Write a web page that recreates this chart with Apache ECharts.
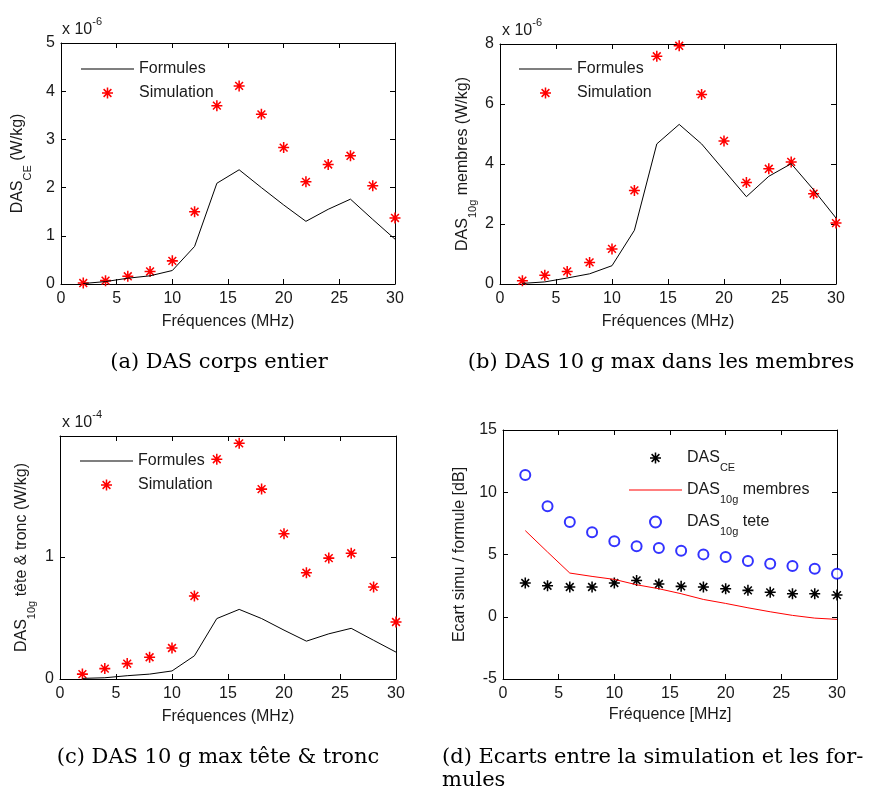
<!DOCTYPE html>
<html><head><meta charset="utf-8">
<script src="https://cdn.jsdelivr.net/npm/echarts@6/dist/echarts.min.js"></script>
<style>html,body{margin:0;padding:0;background:#fff}#c{width:876px;height:794px}</style>
</head><body><div id="c"></div>
<script>
// ---------- data ----------
const freq = [2,4,6,8,10,12,14,16,18,20,22,24,26,28,30];
const freqTicks = [0,5,10,15,20,25,30];
// (a) DAS corps entier, x 1e-6 W/kg
const ceTicks = [0,1,2,3,4,5];
const ceFormules   = [0.01,0.05,0.12,0.17,0.28,0.78,2.09,2.37,2.00,1.64,1.30,1.55,1.76,1.34,0.93];
const ceSimulation = [0.02,0.07,0.16,0.26,0.48,1.50,3.70,4.11,3.52,2.83,2.12,2.48,2.66,2.04,1.37];
// (b) DAS 10 g membres, x 1e-6 W/kg
const membresTicks = [0,2,4,6,8];
const membresFormules   = [0.02,0.07,0.20,0.34,0.61,1.79,4.67,5.32,4.67,3.79,2.91,3.59,4.01,3.14,2.20];
const membresSimulation = [0.11,0.29,0.42,0.72,1.17,3.12,7.59,7.94,6.32,4.77,3.38,3.84,4.07,3.01,2.03];
// (c) DAS 10 g tete & tronc, x 1e-4 W/kg
const teteTicks = [0,1];
const teteFormules   = [0.005,0.01,0.027,0.04,0.066,0.19,0.495,0.57,0.495,0.40,0.31,0.37,0.415,0.317,0.22];
const teteSimulation = [0.04,0.085,0.126,0.178,0.254,0.68,1.80,1.93,1.555,1.19,0.87,0.99,1.03,0.754,0.467];
// (d) ecarts [dB]
const ecartTicks = [-5,0,5,10,15];
const ecartCE      = [2.71,2.49,2.39,2.39,2.71,2.92,2.63,2.44,2.39,2.25,2.12,1.96,1.85,1.85,1.74];
const ecartMembres = [6.92,5.20,3.51,3.24,3.00,2.57,2.25,1.85,1.39,1.07,0.72,0.40,0.11,-0.11,-0.21];
const ecartTete    = [11.39,8.87,7.61,6.78,6.06,5.66,5.52,5.31,5.01,4.80,4.48,4.26,4.07,3.86,3.46];

// ---------- style ----------
const FONT = 'Liberation Sans, Arial, sans-serif';
const SERIF = 'DejaVu Serif, serif';
const INK = '#1a1a1a';
const STAR = 'path://M0,4.3L10,4.3L10,5.7L0,5.7Z M4.3,0L5.7,0L5.7,10L4.3,10Z M1.96,0.97L9.03,8.04L8.04,9.03L0.97,1.96Z M8.04,0.97L9.03,1.96L1.96,9.03L0.97,8.04Z';
const LINEICON = 'path://M0,0L53,0L53,1L0,1Z';
const subRich = {s:{fontFamily:FONT,fontSize:11,color:INK,padding:[19,0,0,0]}};

const pairs = arr => freq.map((f,i)=>[f,arr[i]]);

function xAx(g,pos,name,gap){
  return {gridIndex:g,type:'value',position:pos,min:0,max:30,
    name:name||'',nameLocation:'middle',nameGap:gap||0,
    nameTextStyle:{fontFamily:FONT,fontSize:16,color:INK},
    axisLine:{show:true,onZero:false,lineStyle:{color:'#000',width:1}},
    axisTick:{show:true,inside:true,length:5,customValues:freqTicks,lineStyle:{color:'#000'}},
    axisLabel:{show:pos==='bottom',customValues:freqTicks,fontFamily:FONT,fontSize:16,color:INK,margin:7},
    splitLine:{show:false}};
}
function yAx(g,pos,min,max,ticks,name,gap){
  return {gridIndex:g,type:'value',position:pos,min:min,max:max,
    name:name||'',nameLocation:'middle',nameGap:gap||0,
    nameTextStyle:{fontFamily:FONT,fontSize:16,color:INK,rich:subRich},
    axisLine:{show:true,onZero:false,lineStyle:{color:'#000',width:1}},
    axisTick:{show:true,inside:true,length:5,customValues:ticks,lineStyle:{color:'#000'}},
    axisLabel:{show:pos==='left',customValues:ticks,fontFamily:FONT,fontSize:16,color:INK,margin:6},
    splitLine:{show:false}};
}

const xAxes = [], yAxes = [];
const panels = [
  {min:0,max:5,ticks:ceTicks,yName:'DAS{s|CE} (W/kg)',yGap:28,xName:'Fréquences (MHz)',xGap:30},
  {min:0,max:8,ticks:membresTicks,yName:'DAS{s|10g} membres (W/kg)',yGap:22,xName:'Fréquences (MHz)',xGap:30},
  {min:0,max:1.99,ticks:teteTicks,yName:'DAS{s|10g} tête & tronc (W/kg)',yGap:23,xName:'Fréquences (MHz)',xGap:30},
  {min:-5,max:15,ticks:ecartTicks,yName:'Ecart simu / formule [dB]',yGap:35,xName:'Fréquence [MHz]',xGap:28}
];
panels.forEach((p,g)=>{
  xAxes.push(xAx(g,'bottom',p.xName,p.xGap)); xAxes.push(xAx(g,'top'));
  yAxes.push(yAx(g,'left',p.min,p.max,p.ticks,p.yName,p.yGap)); yAxes.push(yAx(g,'right',p.min,p.max,p.ticks));
});

function lineS(name,g,arr,color){
  return {name:name,type:'line',xAxisIndex:2*g,yAxisIndex:2*g,data:pairs(arr),
    symbol:'none',lineStyle:{color:color,width:1},itemStyle:{color:color},animation:false,silent:true};
}
function starS(name,g,arr,color){
  return {name:name,type:'scatter',xAxisIndex:2*g,yAxisIndex:2*g,data:pairs(arr),
    symbol:STAR,symbolSize:11,itemStyle:{color:color,opacity:1},animation:false,silent:true};
}

const series = [
  lineS('Formules',0,ceFormules,'#000'), starS('Simulation',0,ceSimulation,'#ff0000'),
  lineS('Formules',1,membresFormules,'#000'), starS('Simulation',1,membresSimulation,'#ff0000'),
  lineS('Formules',2,teteFormules,'#000'), starS('Simulation',2,teteSimulation,'#ff0000'),
  starS('DAS_CE',3,ecartCE,'#000'),
  lineS('DAS_10g membres',3,ecartMembres,'#ff0000'),
  {name:'DAS_10g tete',type:'scatter',xAxisIndex:6,yAxisIndex:6,data:pairs(ecartTete),
   symbol:'emptyCircle',symbolSize:10,itemStyle:{color:'#0000ff',borderColor:'#0000ff',borderWidth:1.2},animation:false,silent:true}
];

const legTxt = {fontFamily:FONT,fontSize:16,color:INK};
function legAC(left,top){
  return {left:left,top:top,orient:'vertical',itemWidth:53,itemHeight:11,itemGap:8,padding:0,
    selectedMode:false,textStyle:legTxt,
    data:[{name:'Formules',icon:LINEICON},{name:'Simulation',icon:STAR}]};
}
const legends = [
  legAC(81,61), legAC(519,61), legAC(80,453),
  {left:629,top:450,orient:'vertical',itemWidth:53,itemHeight:11,itemGap:9,padding:0,selectedMode:false,
   textStyle:Object.assign({rich:subRich},legTxt),
   formatter:n=>n.replace(/_(\w+)/,'{s|$1}'),
   data:[{name:'DAS_CE',icon:STAR},{name:'DAS_10g membres',icon:LINEICON},{name:'DAS_10g tete',icon:'emptyCircle'}]}
];

const supRich = {p:{fontFamily:FONT,fontSize:11,fill:INK,padding:[0,0,17,0]}};
function mult(left,top,exp){
  return {type:'text',left:left,top:top,style:{text:'x 10{p|'+exp+'}',rich:supRich,fontFamily:FONT,fontSize:16,fill:INK}};
}
function cap(x,y,txt,align){
  return {type:'text',x:x,y:y,style:{text:txt,fontFamily:SERIF,fontSize:21,fill:'#000',
    align:align||'center',verticalAlign:'top',lineHeight:23}};
}

const chart = echarts.init(document.getElementById('c'),null,{renderer:'canvas'});
chart.setOption({
  backgroundColor:'#fff',
  animation:false,
  grid:[
    {left:61,top:43,width:334,height:241},
    {left:500,top:44,width:336,height:240},
    {left:60,top:436,width:336,height:243},
    {left:503,top:430,width:334,height:249}
  ],
  xAxis:xAxes, yAxis:yAxes, series:series, legend:legends,
  graphic:[
    mult(62,16,'-6'), mult(502,17,'-6'), mult(62,409,'-4'),
    cap(219,351,'(a) DAS corps entier'),
    cap(661,351,'(b) DAS 10 g max dans les membres'),
    cap(218,746,'(c) DAS 10 g max tête & tronc'),
    cap(442,746,'(d) Ecarts entre la simulation et les for-\nmules','left')
  ]
});
</script></body></html>
